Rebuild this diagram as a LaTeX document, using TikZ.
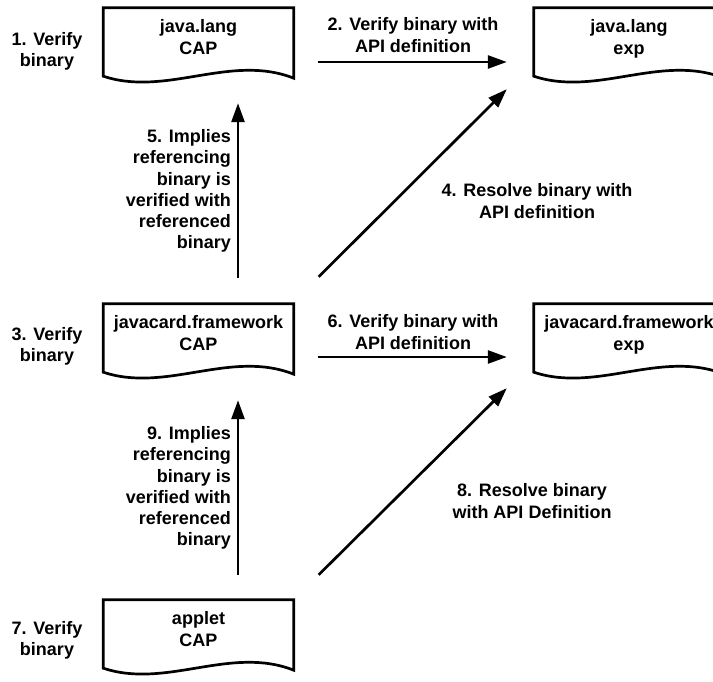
\documentclass[tikz,border=0pt]{standalone}
\usepackage{fontspec}
\setmainfont{Liberation Sans}
\usetikzlibrary{arrows.meta,calc}

% Outline of a flowchart "document" shape around a named node:
% straight top and sides, wavy bottom edge.
\newcommand\drawdocshape[1]{%
  \draw[docline] ([yshift=2pt]#1.south west) -- (#1.north west) -- (#1.north east)
    -- (#1.south east)
    .. controls ([xshift=-63pt,yshift=25pt]#1.south east)
       and ([xshift=63pt,yshift=-19pt]#1.south west)
    .. ([yshift=2pt]#1.south west) -- cycle;}

\begin{document}
\begin{tikzpicture}[x=1pt,y=-1pt,
  txt/.style={font=\fontsize{18}{21.3}\selectfont\bfseries, align=center, inner sep=0pt},
  docnode/.style={txt, minimum width=190pt, minimum height=70pt, text depth=12pt},
  docline/.style={draw=black, line width=2.7pt, line join=miter},
  arr/.style={line width=2.7pt, -{Triangle[length=19pt,width=13pt]}}]

\useasboundingbox (0,0) rectangle (713,682);

% binaries and export files
\node[docnode] (jlcap) at (198.5,43) {java.lang\\CAP};
\node[docnode] (jlexp) at (629,43) {java.lang\\exp};
\node[docnode] (jfcap) at (198.5,339) {javacard.framework\\CAP};
\node[docnode] (jfexp) at (629,339) {javacard.framework\\exp};
\node[docnode] (apcap) at (198.5,635) {applet\\CAP};

\drawdocshape{jlcap}
\drawdocshape{jlexp}
\drawdocshape{jfcap}
\drawdocshape{jfexp}
\drawdocshape{apcap}

% step labels on the left
\node[txt] (s1) at (47,51) {1. Verify\\binary};
\node[txt] (s3) at (47,346) {3. Verify\\binary};
\node[txt] (s7) at (47,640) {7. Verify\\binary};

% verification against export files
\draw[arr] ($(jlcap.east)+(24,19)$) -- ($(jlexp.west)+(-27,19)$);
\node[txt] (s2) at (413,35) {2. Verify binary with\\API definition};

\draw[arr] ($(jfcap.east)+(24,18)$) -- ($(jfexp.west)+(-27,18)$);
\node[txt] (s6) at (413,332) {6. Verify binary with\\API definition};

% resolution against export files
\draw[arr] ($(jfcap.north east)+(25,-27)$) -- ($(jlexp.south west)+(-27,11)$);
\node[txt] (s4) at (537,201) {4. Resolve binary with\\API definition};

\draw[arr] ($(apcap.north east)+(25,-25)$) -- ($(jfexp.south west)+(-27,14)$);
\node[txt] (s8) at (532,501) {8. Resolve binary\\with API Definition};

% implied verification
\draw[arr] ($(jfcap.north)+(39.5,-26)$) -- ($(jlcap.south)+(39.5,25)$);
\node[txt, align=right, anchor=east] (s5) at (231,191)
  {5. Implies\\referencing\\binary is\\verified with\\referenced\\binary};

\draw[arr] ($(apcap.north)+(39.5,-25)$) -- ($(jfcap.south)+(39.5,26)$);
\node[txt, align=right, anchor=east] (s9) at (231,488)
  {9. Implies\\referencing\\binary is\\verified with\\referenced\\binary};

\end{tikzpicture}
\end{document}
